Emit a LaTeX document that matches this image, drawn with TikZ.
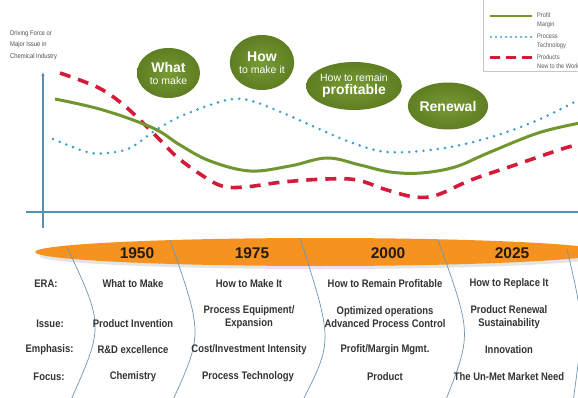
\documentclass[tikz,border=0pt]{standalone}
\usepackage{fontspec}
\setmainfont{Liberation Sans}
\newfontfamily\condsans[FakeStretch=0.86]{Liberation Sans}
\usetikzlibrary{shapes.geometric,arrows.meta}

\definecolor{profitgreen}{RGB}{112,150,48}
\definecolor{processblue}{RGB}{58,160,200}
\definecolor{productred}{RGB}{212,28,58}
\definecolor{axisblue}{RGB}{86,142,180}
\definecolor{eraorange}{RGB}{245,146,32}
\definecolor{bubblein}{RGB}{120,154,52}
\definecolor{bubbleout}{RGB}{94,126,34}
\definecolor{tabletext}{RGB}{52,52,52}
\definecolor{yeartext}{RGB}{38,26,12}
\definecolor{arcblue}{RGB}{110,150,178}

\tikzset{
  profit/.style={profitgreen, line width=3pt},
  process/.style={processblue, line width=2.8pt, line cap=round, dash pattern=on 0pt off 7.2pt},
  product/.style={productred, line width=3.6pt, dash pattern=on 11pt off 8pt},
  axisline/.style={axisblue, line width=1.1pt},
  bubble/.style={ellipse, inner sep=0pt, align=center, text=white,
    shade, shading=radial, inner color=bubblein, outer color=bubbleout},
  bigword/.style={font=\bfseries\fontsize{14}{15}\selectfont},
  cell/.style={text=tabletext, align=center, inner sep=0pt,
    font=\condsans\bfseries\fontsize{11}{13.5}\selectfont},
  rowhead/.style={cell},
  year/.style={text=yeartext, inner sep=0pt, font=\bfseries\fontsize{15.5}{16}\selectfont},
  legendtext/.style={text=black!65, anchor=west, align=left, inner sep=0pt,
    font=\condsans\fontsize{6.6}{9}\selectfont},
  divider/.style={arcblue, line width=0.7pt},
}

\begin{document}
\begin{tikzpicture}[x=1pt, y=-1pt]
\useasboundingbox (0,0) rectangle (578,398);
\clip (0,0) rectangle (578,398);
\fill[white] (0,0) rectangle (578,398);

% axes
\coordinate (ytop) at (43,72);
\coordinate (ybot) at (43,228);
\coordinate (xleft) at (26,212);
\coordinate (xright) at (580,212);
\draw[axisline, -{Latex[length=4pt,width=3.5pt]}] (ybot) -- (ytop);
\draw[axisline] (xleft) -- (xright);

\node[legendtext, font=\condsans\fontsize{6.8}{11.5}\selectfont, text=black!70] (ylabel) at (10,45)
  {Driving Force or\\Major Issue in\\Chemical Industry};

% curves
\draw[process] plot[smooth, tension=0.6] coordinates {
  (53,139) (87,152) (107,153) (130,148) (153,132) (177,118) (210,105)
  (233,99) (252,101) (283,113) (317,128) (350,142) (387,152) (438,149)
  (488,138) (538,120) (580,99)};
\draw[product] plot[smooth, tension=0.6] coordinates {
  (60,73) (97,87) (120,102) (140,120) (160,140) (177,157) (200,174)
  (222,186) (245,187) (283,182) (327,179) (357,180) (387,190)
  (415,197) (437,195) (471,180) (515,165) (565,148) (580,145)};
\draw[profit] plot[smooth, tension=0.6] coordinates {
  (55,99) (103,110) (153,128) (180,145) (210,161) (250,171) (290,166)
  (327,158) (360,165) (390,172) (421,173) (455,167) (488,153)
  (538,133) (580,123)};

% legend
\draw[black!22, line width=0.6pt] (483,-2) rectangle (600,71);
\coordinate (lg1a) at (490,16); \coordinate (lg1b) at (532,16);
\coordinate (lg2a) at (491,37); \coordinate (lg2b) at (532,37);
\coordinate (lg3a) at (490,58); \coordinate (lg3b) at (532,58);
\draw[profit, line width=2.5pt] (lg1a) -- (lg1b);
\draw[process, line width=2.3pt, dash pattern=on 0pt off 5pt] (lg2a) -- (lg2b);
\draw[product, line width=3pt, dash pattern=on 10pt off 6pt] (lg3a) -- (lg3b);
\node[legendtext] (leg1) at (537,20) {Profit\\Margin};
\node[legendtext] (leg2) at (537,41.5) {Process\\Technology};
\node[legendtext] (leg3) at (537,62) {Products\\New to the World};

% era bubbles
\node[bubble, minimum width=63pt, minimum height=50pt] (b1) at (168.5,73)
  {{\bfseries\fontsize{14}{15}\selectfont What}\\[0pt]{\fontsize{10.5}{12}\selectfont to make}};
\node[bubble, minimum width=63pt, minimum height=55pt] (b2) at (262,62.5)
  {{\bfseries\fontsize{14}{15}\selectfont How}\\[0pt]{\fontsize{10.5}{12}\selectfont to make it}};
\node[bubble, minimum width=88pt, minimum height=48pt] (b3) at (354,86)
  {{\fontsize{10.5}{12}\selectfont How to remain}\\[1pt]{\bfseries\fontsize{14}{15}\selectfont profitable}};
\node[bubble, minimum width=75pt, minimum height=47pt, bigword] (b4) at (448,106) {Renewal};

% era band
\fill[black!30, opacity=0.35] (322,256) ellipse [x radius=283pt, y radius=13pt];
\fill[eraorange] (320,252) ellipse [x radius=285pt, y radius=14pt];

\node[year] (y1950) at (137,253) {1950};
\node[year] (y1975) at (252,253) {1975};
\node[year] (y2000) at (388,253) {2000};
\node[year] (y2025) at (512,253) {2025};

% column dividers
\coordinate (d1t) at (67,247);  \coordinate (d1b) at (70,402);
\coordinate (d2t) at (170,240); \coordinate (d2b) at (172,402);
\coordinate (d3t) at (300,238); \coordinate (d3b) at (302,402);
\coordinate (d4t) at (438,240); \coordinate (d4b) at (445,402);
\coordinate (d5t) at (567,249); \coordinate (d5b) at (573,402);
\draw[divider] (d1t) .. controls (104,326) .. (d1b);
\draw[divider] (d2t) .. controls (203,334) .. (d2b);
\draw[divider] (d3t) .. controls (333,341) .. (d3b);
\draw[divider] (d4t) .. controls (472,334) .. (d4b);
\draw[divider] (d5t) .. controls (584,322) .. (d5b);

% row headings
\node[rowhead] (hera) at (46,284) {ERA:};
\node[rowhead] (hissue) at (50,323.5) {Issue:};
\node[rowhead] (hemph) at (49.5,350) {Emphasis:};
\node[rowhead] (hfocus) at (49,377) {Focus:};

% 1950
\node[cell] (c11) at (133,284) {What to Make};
\node[cell] (c12) at (133,323.5) {Product Invention};
\node[cell] (c13) at (133,350) {R\&D excellence};
\node[cell] (c14) at (133,377) {Chemistry};
% 1975
\node[cell] (c21) at (249,284) {How to Make It};
\node[cell] (c22) at (249,317) {Process Equipment/\\Expansion};
\node[cell] (c23) at (249,350) {Cost/Investment Intensity};
\node[cell] (c24) at (248,377) {Process Technology};
% 2000
\node[cell] (c31) at (385,284) {How to Remain Profitable};
\node[cell] (c32) at (385,317) {Optimized operations\\Advanced Process Control};
\node[cell] (c33) at (385,350) {Profit/Margin Mgmt.};
\node[cell] (c34) at (385,377) {Product};
% 2025
\node[cell] (c41) at (509,284) {How to Replace It};
\node[cell] (c42) at (509,317) {Product Renewal\\Sustainability};
\node[cell] (c43) at (509,350) {Innovation};
\node[cell] (c44) at (509,377) {The Un-Met Market Need};
\end{tikzpicture}
\end{document}
